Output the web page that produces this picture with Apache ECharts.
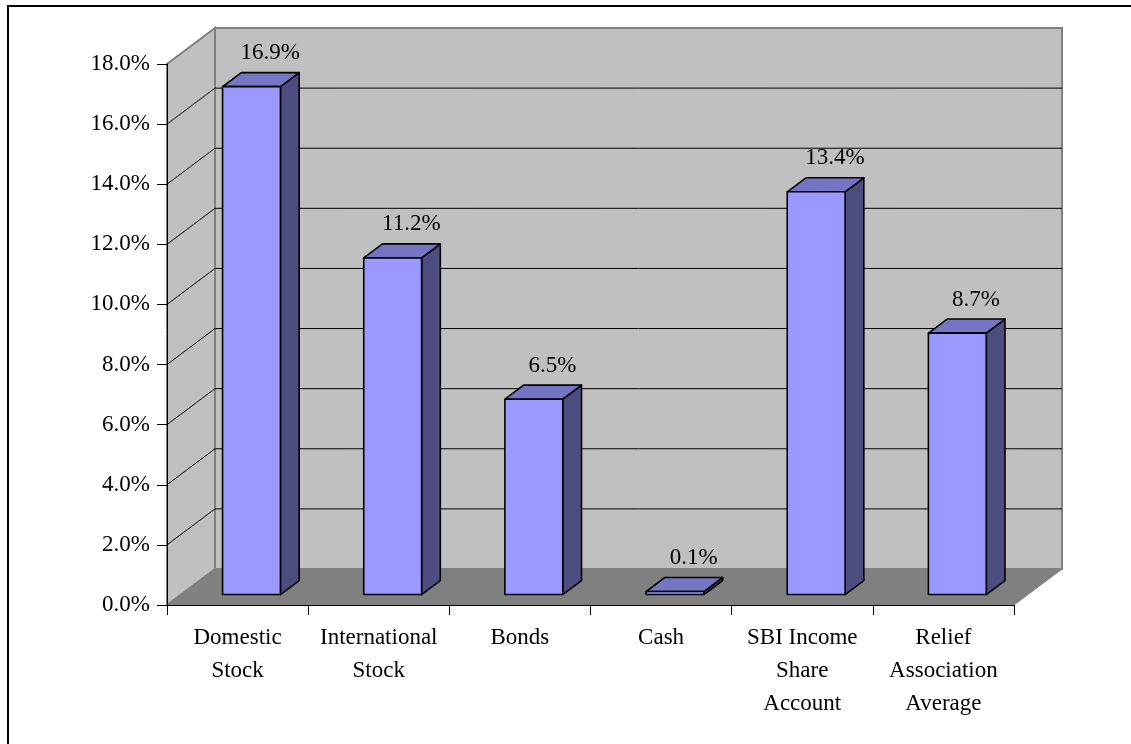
<!DOCTYPE html>
<html>
<head>
<meta charset="utf-8">
<style>
  html, body { margin: 0; padding: 0; background: #ffffff; }
  #chart { width: 1131px; height: 744px; }
</style>
<script src="https://cdn.jsdelivr.net/npm/echarts@6/dist/echarts.min.js"></script>
</head>
<body>
<div id="chart"></div>
<script>
// Asset class returns (percent)
const categories = [
  'Domestic\nStock',
  'International\nStock',
  'Bonds',
  'Cash',
  'SBI Income\nShare\nAccount',
  'Relief\nAssociation\nAverage'
];
const returns = [16.9, 11.2, 6.5, 0.1, 13.4, 8.7];
const yTicks = [0, 2, 4, 6, 8, 10, 12, 14, 16, 18];

// 3D projection settings (pixels for the full floor depth)
const DEPTH_X = 48;
const DEPTH_Y = -36;
const BAR_FRONT = 0.29;   // depth position of a bar's front face
const BAR_DEPTH = 0.39;   // bar thickness as a share of floor depth
const BAR_WIDTH = 0.41;   // bar width as a share of category width

const FONT = "'Liberation Serif', 'Times New Roman', serif";
const FONT_SIZE = 23;
const WALL = '#c0c0c0';
const FLOOR = '#808080';
const EDGE = '#808080';

const chart = echarts.init(document.getElementById('chart'), null, { renderer: 'canvas' });

function renderWalls(params, api) {
  const cs = params.coordSys;
  const L = cs.x, R = cs.x + cs.width, T = cs.y, B = cs.y + cs.height;
  const kids = [];
  // left side wall
  kids.push({
    type: 'polygon',
    shape: { points: [[L, B], [L + DEPTH_X, B + DEPTH_Y], [L + DEPTH_X, T + DEPTH_Y], [L, T]] },
    style: { fill: WALL, stroke: EDGE, lineWidth: 2 }
  });
  // back wall
  kids.push({
    type: 'rect',
    shape: { x: L + DEPTH_X, y: T + DEPTH_Y, width: R - L, height: B - T },
    style: { fill: WALL, stroke: EDGE, lineWidth: 2 }
  });
  // floor
  kids.push({
    type: 'polygon',
    shape: { points: [[L, B], [R, B], [R + DEPTH_X, B + DEPTH_Y], [L + DEPTH_X, B + DEPTH_Y]] },
    style: { fill: FLOOR, stroke: EDGE, lineWidth: 1 }
  });
  // gridlines on the back and side walls
  yTicks.slice(1, -1).forEach(function (v) {
    const y = api.coord([0, v])[1];
    kids.push({
      type: 'line',
      shape: { x1: L + DEPTH_X, y1: y + DEPTH_Y, x2: R + DEPTH_X, y2: y + DEPTH_Y },
      style: { stroke: '#000', lineWidth: 1 }
    });
    kids.push({
      type: 'line',
      shape: { x1: L, y1: y, x2: L + DEPTH_X, y2: y + DEPTH_Y },
      style: { stroke: '#000', lineWidth: 1 }
    });
  });
  return { type: 'group', children: kids };
}

function renderBar(params, api) {
  const i = api.value(0);
  const v = api.value(1);
  const base = api.coord([i, 0]);
  const top = api.coord([i, v]);
  const cw = api.size([1, 0])[0];
  const bw = cw * BAR_WIDTH;
  const fx = DEPTH_X * BAR_FRONT, fy = DEPTH_Y * BAR_FRONT;
  const dx = DEPTH_X * BAR_DEPTH, dy = DEPTH_Y * BAR_DEPTH;
  const x0 = base[0] - bw / 2 + fx, x1 = x0 + bw;
  const yb = base[1] + fy, yt = top[1] + fy;
  const edge = { stroke: '#000', lineWidth: 1.6, lineJoin: 'round' };
  return {
    type: 'group',
    children: [
      {
        type: 'polygon',
        shape: { points: [[x1, yb], [x1 + dx, yb + dy], [x1 + dx, yt + dy], [x1, yt]] },
        style: Object.assign({ fill: '#4d4d80' }, edge)
      },
      {
        type: 'polygon',
        shape: { points: [[x0, yt], [x1, yt], [x1 + dx, yt + dy], [x0 + dx, yt + dy]] },
        style: Object.assign({ fill: '#7575c4' }, edge)
      },
      {
        type: 'rect',
        shape: { x: x0, y: yt, width: bw, height: Math.max(yb - yt, 0.5) },
        style: Object.assign({ fill: '#9999ff' }, edge)
      },
      {
        type: 'text',
        x: (x0 + x1) / 2 + dx,
        y: yt + dy - 8,
        style: {
          text: v.toFixed(1) + '%',
          fill: '#000',
          font: FONT_SIZE + 'px ' + FONT,
          align: 'center',
          verticalAlign: 'bottom'
        }
      }
    ]
  };
}

const option = {
  animation: false,
  backgroundColor: '#ffffff',
  grid: { left: 167, right: 117, top: 64, bottom: 139, containLabel: false },
  graphic: [{
    type: 'rect',
    shape: { x: 8, y: 6, width: 1300, height: 900 },
    style: { fill: 'none', stroke: '#000', lineWidth: 2 },
    silent: true
  }],
  xAxis: {
    type: 'category',
    data: categories,
    z: 10,
    axisLine: { lineStyle: { color: '#000', width: 1 } },
    axisTick: { show: true, interval: 0, length: 10, lineStyle: { color: '#000' } },
    axisLabel: {
      interval: 0,
      margin: 16,
      color: '#000',
      fontFamily: FONT,
      fontSize: FONT_SIZE,
      lineHeight: 33
    },
    splitLine: { show: false }
  },
  yAxis: {
    type: 'value',
    min: 0,
    max: 18,
    interval: 2,
    z: 10,
    axisLine: { show: true, lineStyle: { color: '#000', width: 1 } },
    axisTick: { show: true, length: 10, lineStyle: { color: '#000' } },
    axisLabel: {
      margin: 17,
      color: '#000',
      fontFamily: FONT,
      fontSize: FONT_SIZE,
      padding: [3, 0, 0, 0],
      formatter: function (v) { return v.toFixed(1) + '%'; }
    },
    splitLine: { show: false }
  },
  series: [
    {
      type: 'custom',
      name: 'walls',
      clip: false,
      silent: true,
      z: 1,
      renderItem: renderWalls,
      data: [[0, 0]]
    },
    {
      type: 'custom',
      name: 'Return',
      clip: false,
      z: 3,
      renderItem: renderBar,
      data: returns.map(function (v, i) { return [i, v]; })
    }
  ]
};

chart.setOption(option);
</script>
</body>
</html>
